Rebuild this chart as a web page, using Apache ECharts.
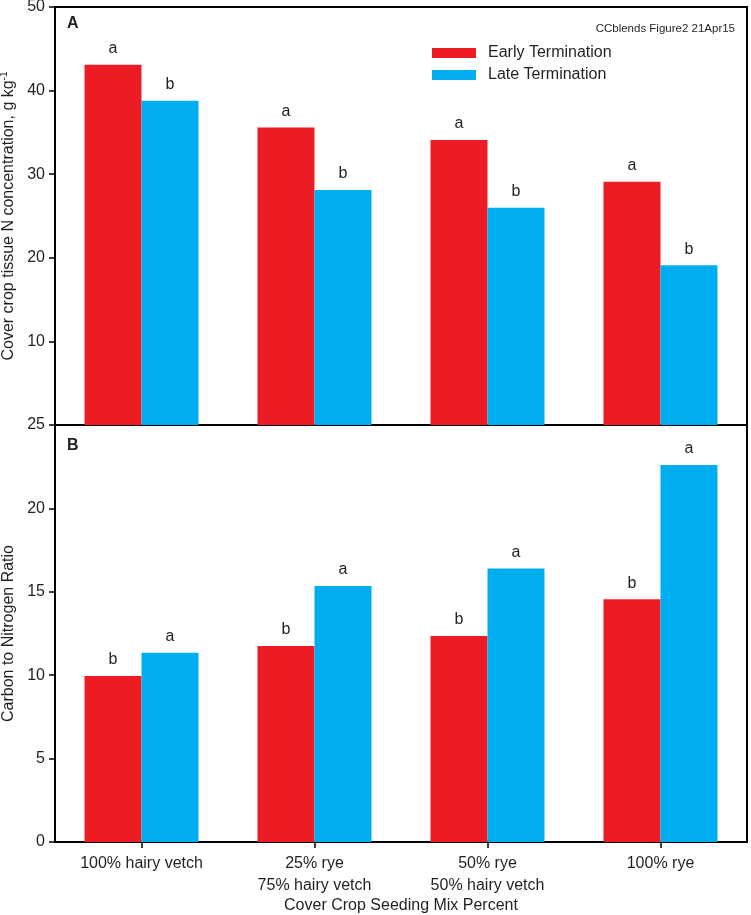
<!DOCTYPE html>
<html>
<head>
<meta charset="utf-8">
<script src="https://cdn.jsdelivr.net/npm/echarts@6/dist/echarts.min.js"></script>
<style>
html,body{margin:0;padding:0;background:#fff;}
#chart{width:751px;height:915px;}
</style>
</head>
<body>
<div id="chart"></div>
<script>
var categories = ['100% hairy vetch', '25% rye\n75% hairy vetch', '50% rye\n50% hairy vetch', '100% rye'];
var seriesNames = ['Early Termination', 'Late Termination'];
var nEarly = [43.1, 35.6, 34.1, 29.1];
var nLate = [38.8, 28.1, 26.0, 19.1];
var nEarlyLetters = ['a', 'a', 'a', 'a'];
var nLateLetters = ['b', 'b', 'b', 'b'];
var cnEarly = [9.95, 11.75, 12.35, 14.55];
var cnLate = [11.35, 15.35, 16.4, 22.6];
var cnEarlyLetters = ['b', 'b', 'b', 'b'];
var cnLateLetters = ['a', 'a', 'a', 'a'];
var yTicksA = [0, 10, 20, 30, 40, 50];
var yTicksB = [0, 5, 10, 15, 20, 25];

var FONT = 'Liberation Sans, Arial, Helvetica, sans-serif';
var TXT = '#231f20';
var RED = '#ed1c24';
var BLUE = '#00aeef';
var FS = 16;

function withLetters(vals, letters) {
  return vals.map(function (v, i) { return { value: v, letter: letters[i] }; });
}

function barSeries(name, vals, letters, color, xi, yi) {
  return {
    name: name,
    type: 'bar',
    xAxisIndex: xi,
    yAxisIndex: yi,
    data: withLetters(vals, letters),
    barWidth: 57,
    barGap: '0%',
    itemStyle: { color: color },
    label: {
      show: true,
      position: 'top',
      distance: 8,
      fontFamily: FONT,
      fontSize: FS,
      color: TXT,
      formatter: function (p) { return p.data.letter; }
    }
  };
}

var yAxisCommon = {
  type: 'value',
  axisLine: { show: true, lineStyle: { color: '#000', width: 2 } },
  axisTick: { show: true, inside: false, length: 6, lineStyle: { color: '#000', width: 1.5 } },
  axisLabel: { fontFamily: FONT, fontSize: FS, color: TXT, margin: 10 },
  splitLine: { show: false },
  nameLocation: 'middle',
  nameRotate: 90,
  nameTextStyle: { fontFamily: FONT, fontSize: FS, color: TXT }
};

var gridCommon = {
  left: 55, width: 692, show: true, borderColor: '#000', borderWidth: 2,
  backgroundColor: 'transparent', containLabel: false, outerBoundsMode: 'none'
};

var chart = echarts.init(document.getElementById('chart'), null, { renderer: 'canvas' });
chart.setOption({
  animation: false,
  backgroundColor: '#fff',
  textStyle: { fontFamily: FONT },
  grid: [
    Object.assign({}, gridCommon, { top: 7, height: 418 }),
    Object.assign({}, gridCommon, { top: 425, height: 417 })
  ],
  legend: {
    data: seriesNames,
    orient: 'vertical',
    left: 432,
    top: 44,
    itemWidth: 44,
    itemHeight: 10,
    itemGap: 4,
    padding: 0,
    textStyle: { fontFamily: FONT, fontSize: FS, color: TXT, lineHeight: 18, padding: [0, 0, 0, 7] },
    icon: 'rect'
  },
  xAxis: [
    {
      type: 'category', gridIndex: 0, data: categories,
      axisLine: { show: true, lineStyle: { color: '#000', width: 2 } },
      axisTick: { show: false }, axisLabel: { show: false }
    },
    {
      type: 'category', gridIndex: 1, data: categories,
      axisLine: { show: true, lineStyle: { color: '#000', width: 2 } },
      axisTick: { show: true, alignWithLabel: true, length: 6, lineStyle: { color: '#000', width: 1.5 } },
      axisLabel: { fontFamily: FONT, fontSize: FS, color: TXT, lineHeight: 22, margin: 11 },
      name: 'Cover Crop Seeding Mix Percent',
      nameLocation: 'middle',
      nameGap: 55,
      nameTextStyle: { fontFamily: FONT, fontSize: FS, color: TXT }
    }
  ],
  yAxis: [
    Object.assign({}, yAxisCommon, {
      gridIndex: 0, min: yTicksA[0], max: yTicksA[yTicksA.length - 1], interval: 10,
      axisLabel: Object.assign({}, yAxisCommon.axisLabel, { showMinLabel: false }),
      name: 'Cover crop tissue N concentration, g kg{sup|-1}',
      nameGap: 36,
      nameTextStyle: {
        fontFamily: FONT, fontSize: FS, color: TXT,
        rich: { sup: { fontFamily: FONT, fontSize: 10, color: TXT, verticalAlign: 'top', padding: [0, 0, 8, 0] } }
      }
    }),
    Object.assign({}, yAxisCommon, {
      gridIndex: 1, min: yTicksB[0], max: yTicksB[yTicksB.length - 1], interval: 5,
      name: 'Carbon to Nitrogen Ratio',
      nameGap: 36
    })
  ],
  graphic: [
    { type: 'text', left: 67, top: 16, style: { text: 'A', font: 'bold 16px ' + FONT, fill: TXT } },
    { type: 'text', left: 67, top: 437.5, style: { text: 'B', font: 'bold 16px ' + FONT, fill: TXT } },
    { type: 'text', right: 16, top: 22.5, style: { text: 'CCblends Figure2 21Apr15', font: '11.5px ' + FONT, fill: TXT } }
  ],
  series: [
    barSeries(seriesNames[0], nEarly, nEarlyLetters, RED, 0, 0),
    barSeries(seriesNames[1], nLate, nLateLetters, BLUE, 0, 0),
    barSeries(seriesNames[0], cnEarly, cnEarlyLetters, RED, 1, 1),
    barSeries(seriesNames[1], cnLate, cnLateLetters, BLUE, 1, 1)
  ]
});
</script>
</body>
</html>
